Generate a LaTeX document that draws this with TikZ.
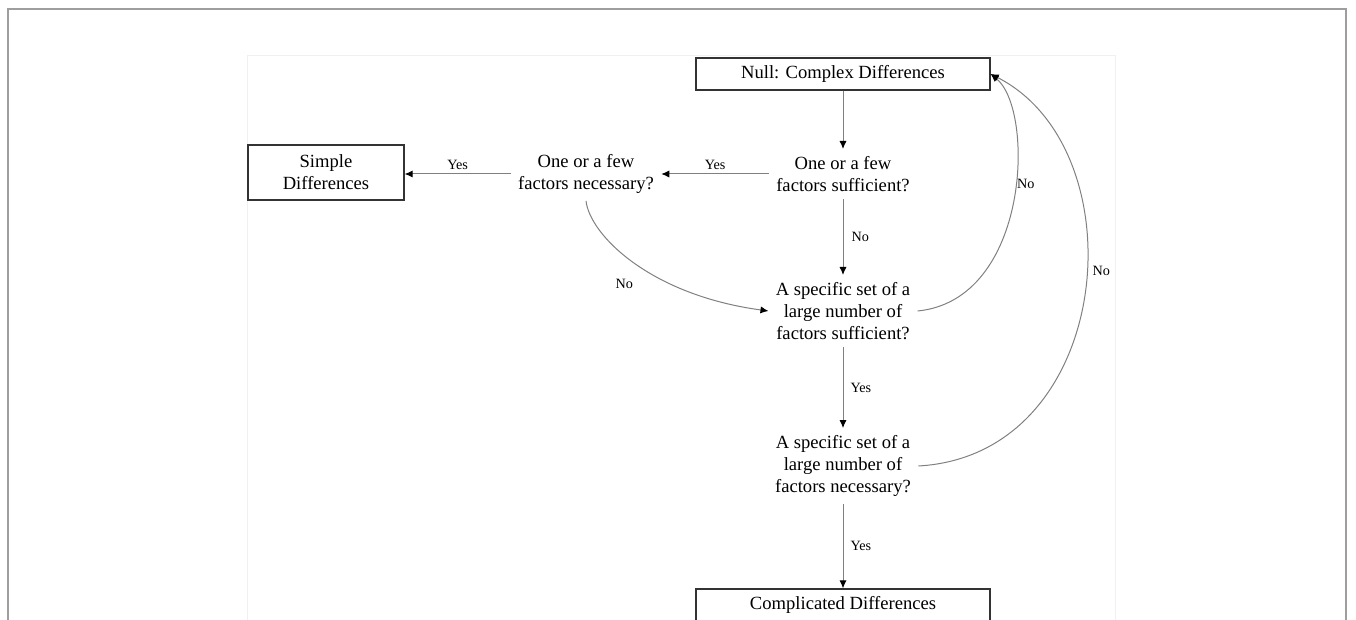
\documentclass[tikz,border=0pt]{standalone}
\usepackage{fontspec}
\setmainfont{Liberation Serif}
\usetikzlibrary{arrows.meta}
\begin{document}
\begin{tikzpicture}[x=0.5pt,y=-0.5pt,
  box/.style={draw=black!80, line width=0.65pt, minimum width=147pt, minimum height=16pt, inner sep=0pt, font=\fontsize{9.3}{11}\selectfont},
  q/.style={align=center, inner sep=3.5pt, font=\fontsize{9.3}{11}\selectfont},
  conn/.style={draw=black!50, line width=0.5pt, -{Latex[length=4pt,width=3.6pt,color=black]}},
  lbl/.style={font=\fontsize{7.1}{8}\selectfont, inner sep=0pt}]
\useasboundingbox (0,0) rectangle (1356,620);
\clip (0,0) rectangle (1356,620);
\draw[black!38, line width=1pt] (8,640) -- (8,9) -- (1346,9) -- (1346,640);
\draw[black!6, line width=0.5pt] (247,640) -- (247,56) -- (1115,56) -- (1115,640);

\node[box] (null) at (843,74) {Null: Complex Differences};
\node[q] (suff) at (843,174) {One or a few\\factors sufficient?};
\node[q] (nec) at (586,174) {One or a few\\factors necessary?};
\node[box, minimum width=78pt, minimum height=27.5pt, align=center] (simple) at (326,172.5) {Simple\\Differences};
\node[q] (set1) at (843,311) {A specific set of a\\large number of\\factors sufficient?};
\node[q] (set2) at (843,466) {A specific set of a\\large number of\\factors necessary?};
\node[box] (comp) at (843,605) {Complicated Differences};

\draw[conn] (null) -- (suff);
\draw[conn] (suff) -- node[lbl, above=2pt] {Yes} (nec);
\draw[conn] (nec) -- node[lbl, above=2pt] {Yes} (simple.east |- nec);
\draw[conn] (suff) -- node[lbl, right=4pt] {No} (set1);
\draw[conn] (set1) -- node[lbl, right=3.5pt] {Yes} (set2);
\draw[conn] (set2) -- node[lbl, right=3.5pt] {Yes} (comp);

\draw[conn] (nec.south) .. controls (590,235) and (650,295) .. node[lbl, pos=0.5, xshift=-5pt, yshift=-10.5pt] {No} (set1.west);
\draw[conn] (set1.east) .. controls (1030,300) and (1035,110) .. node[lbl, pos=0.5, xshift=6.5pt, yshift=9pt] {No} (null.east);
\draw[conn] (set2.east) .. controls (1115,455) and (1140,150) .. node[lbl, pos=0.5, xshift=8.5pt, yshift=11.5pt] {No} (null.east);
\end{tikzpicture}
\end{document}
